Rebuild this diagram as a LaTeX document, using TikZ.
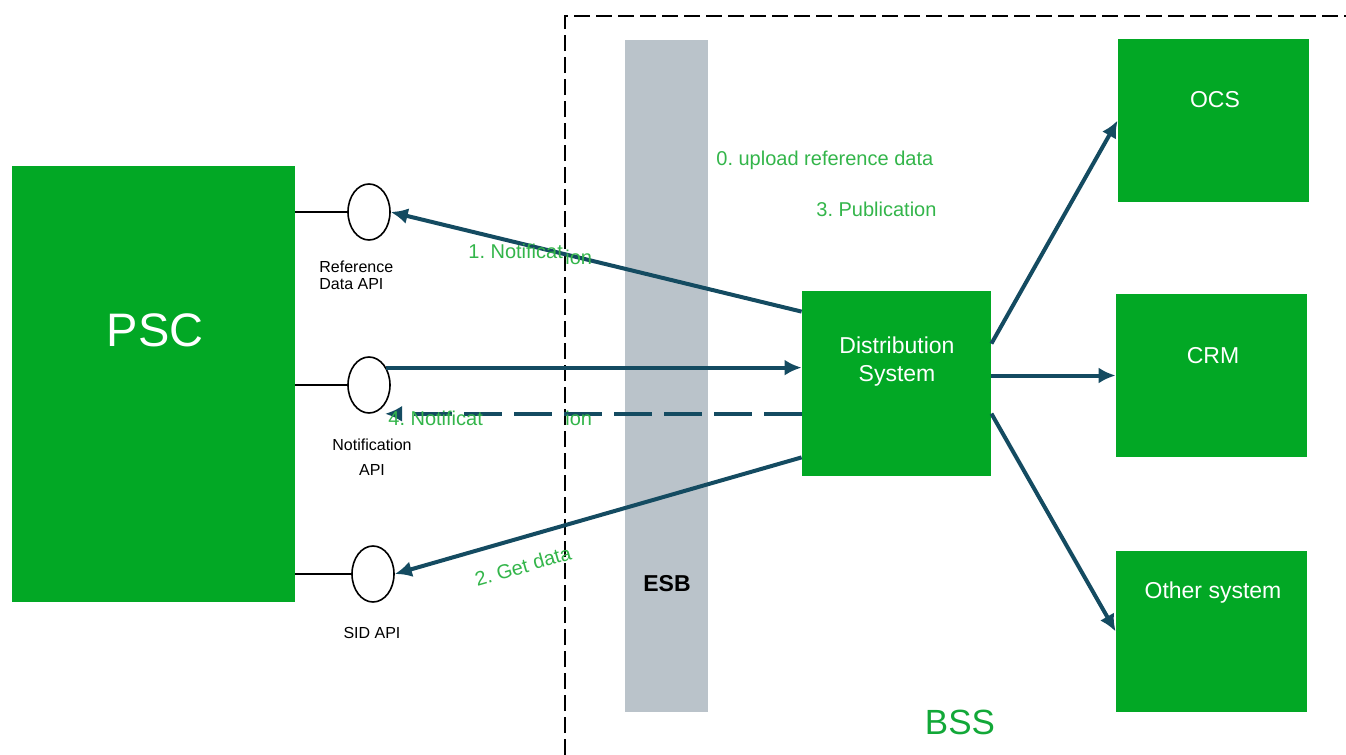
\documentclass[tikz,border=0pt]{standalone}
\usepackage{fontspec}
\setmainfont{Liberation Sans}
\usetikzlibrary{arrows.meta,shapes.geometric}
\definecolor{boxgreen}{HTML}{02A825}
\definecolor{labgreen}{HTML}{33B54A}
\definecolor{bssgreen}{HTML}{12A838}
\definecolor{esbgray}{HTML}{BAC3CA}
\definecolor{arrowc}{HTML}{144B61}
\tikzset{
  gbox/.style={fill=boxgreen, inner sep=0pt, draw=none},
  wtext/.style={text=white, font=\fontsize{11.5}{14}\selectfont, align=center, inner sep=0pt},
  apinode/.style={draw=black, line width=0.8pt, ellipse, minimum width=21pt, minimum height=28pt, inner sep=0pt},
  apitext/.style={text=black, font=\fontsize{8}{8.5}\selectfont, inner sep=0pt},
  arr/.style={draw=arrowc, line width=2pt, -{Latex[length=8.5pt,width=8pt]}},
  glabel/.style={text=labgreen, font=\fontsize{10}{12}\selectfont, inner sep=0pt},
  bssline/.style={draw=black, line width=1.1pt, dash pattern=on 8pt off 3pt},
}
\begin{document}
\frenchspacing
\begin{tikzpicture}[x=0.5pt,y=-0.5pt]
\useasboundingbox (0,0) rectangle (1346,755);

% BSS border
\coordinate (bssbottom) at (565,755);
\coordinate (bsscorner) at (565,16);
\coordinate (bssright) at (1346,16);
\draw[bssline] (bssbottom) -- (bsscorner) -- (bssright);

% ESB bar
\node[fill=esbgray, inner sep=0pt, minimum width=41.5pt, minimum height=336pt] (esb) at (666.5,376) {};
\node[font=\bfseries\fontsize{11.5}{14}\selectfont, inner sep=0pt] (esbtext) at (667,584) {ESB};

% PSC
\node[gbox, minimum width=141.5pt, minimum height=218pt] (psc) at (153.5,384) {};
\node[text=white, font=\fontsize{23.5}{28}\selectfont, inner sep=0pt] (psctext) at (155,330) {PSC};

% API ellipses
\node[apinode] (ref) at (369,212) {};
\node[apinode] (notif) at (369,385) {};
\node[apinode] (sid) at (373,574) {};
\draw[black, line width=0.8pt] (psc.east |- ref.west) -- (ref.west);
\draw[black, line width=0.8pt] (psc.east |- notif.west) -- (notif.west);
\draw[black, line width=0.8pt] (psc.east |- sid.west) -- (sid.west);

\node[apitext, align=left, anchor=north west] (reftext) at (319,261) {Reference\\Data API};
\node[apitext, align=center, font=\fontsize{8}{12.5}\selectfont] (notiftext) at (372,457) {Notification\\API};
\node[apitext] (sidtext) at (372,633) {SID API};

% Right side boxes
\node[gbox, minimum width=94.5pt, minimum height=92.5pt] (dist) at (896.5,383.5) {};
\node[wtext] (disttext) at (897,362) {Distribution\\System};
\node[gbox, minimum width=95.5pt, minimum height=81.5pt] (ocs) at (1213.5,120.5) {};
\node[wtext] (ocstext) at (1215,100) {OCS};
\node[gbox, minimum width=95.5pt, minimum height=81.5pt] (crm) at (1211.5,375.5) {};
\node[wtext] (crmtext) at (1213,356) {CRM};
\node[gbox, minimum width=95.5pt, minimum height=80.5pt] (other) at (1211.5,631.5) {};
\node[wtext] (othertext) at (1213,593) {Other system};

\node[text=bssgreen, font=\fontsize{17.5}{20}\selectfont, inner sep=0pt] (bss) at (960,722) {BSS};

% Arrows
\coordinate (d1) at ([yshift=-10.5pt]dist.north west);
\draw[arr] (d1) -- (ref.east);
\draw[arr] (notif.45) -- (dist.west |- notif.45);
\coordinate (n4) at ([xshift=8pt]notif.south);
\coordinate (d4) at (dist.west |- n4);
\draw[arr, dash pattern=on 19pt off 6pt] (d4) -- (n4);
\coordinate (d2) at ([yshift=9.5pt]dist.south west);
\draw[arr] (d2) -- (sid.east);
\coordinate (dO) at ([yshift=-26.5pt]dist.north east);
\draw[arr] (dO) -- (ocs.west);
\draw[arr] (dist.east |- crm.west) -- (crm.west);
\coordinate (dX) at ([yshift=-61.5pt]dist.north east);
\draw[arr] (dX) -- (other.west);

% Labels
\node[glabel, anchor=west] (l0) at (716,160) {0. upload reference data};
\node[glabel, anchor=west] (l3) at (816,209) {3. Publication};
\node[glabel, anchor=west] (l1a) at (468,251) {1. Notificat};
\node[glabel, anchor=west] (l1b) at (565,257) {ion};
\node[glabel, anchor=west] (l4a) at (388,418) {4. Notificat};
\node[glabel, anchor=west] (l4b) at (565,418) {ion};
\node[glabel, rotate=16] (l2) at (523,566) {2. Get data};
\end{tikzpicture}
\end{document}
